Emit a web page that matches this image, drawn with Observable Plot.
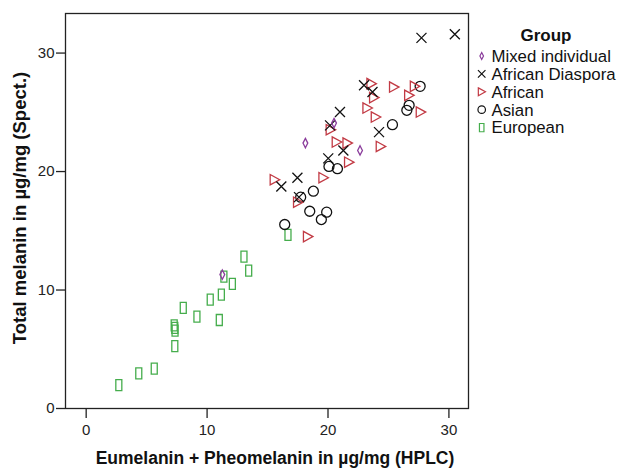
<!DOCTYPE html>
<html><head><meta charset="utf-8">
<script src="https://cdn.jsdelivr.net/npm/d3@7"></script>
<script src="https://cdn.jsdelivr.net/npm/@observablehq/plot@0.6"></script>
<style>
body{margin:0;background:#fff}
#chart{position:relative;width:621px;height:470px;font-family:"Liberation Sans",Arial,sans-serif}
#chart svg{position:absolute;left:0;top:0}
</style>
</head><body><div id="chart"></div>
<script>
const groupNames = ["Mixed individual", "African Diaspora", "African", "Asian", "European"];
const groupColors = ["#8b3d9c", "#111111", "#c23a44", "#111111", "#45ad4c"];

const mixedX = [11.26, 18.13, 20.50, 22.65];
const mixedY = [11.30, 22.40, 24.09, 21.78];

const diasporaX = [27.73, 30.49, 22.98, 23.68, 20.99, 20.17, 24.22, 21.27, 20.02, 17.47, 16.14, 17.60];
const diasporaY = [31.28, 31.59, 27.28, 26.71, 25.02, 23.90, 23.33, 21.78, 21.11, 19.48, 18.74, 17.84];

const africanX = [23.59, 23.81, 25.46, 27.18, 26.71, 23.26, 23.95, 27.67, 20.22, 20.72, 21.61, 24.36, 21.74, 19.62, 15.59, 17.52, 18.34];
const africanY = [27.42, 26.24, 27.13, 27.19, 26.43, 25.36, 24.60, 25.02, 23.53, 22.49, 22.40, 22.12, 20.79, 19.48, 19.31, 17.41, 14.51];

const asianX = [27.62, 26.71, 26.52, 25.33, 20.08, 20.78, 18.79, 17.74, 18.49, 19.89, 19.45, 16.42];
const asianY = [27.19, 25.59, 25.17, 23.96, 20.43, 20.24, 18.34, 17.84, 16.65, 16.57, 15.95, 15.53];

const europeanX = [2.70, 4.35, 5.63, 7.28, 7.33, 7.35, 7.33, 8.03, 9.16, 10.26, 11.18, 11.01, 11.39, 12.09, 13.05, 13.44, 16.69];
const europeanY = [1.98, 2.96, 3.36, 7.02, 6.80, 6.57, 5.27, 8.49, 7.75, 9.19, 9.61, 7.47, 11.13, 10.52, 12.82, 11.64, 14.66];

const xTicks = [0, 10, 20, 30];
const yTicks = [0, 10, 20, 30];
const xTitle = "Eumelanin + Pheomelanin in µg/mg (HPLC)";
const yTitle = "Total melanin in µg/mg (Spect.)";
const legendTitle = "Group";

// custom marker shapes (SPSS style)
const symDiamond = {draw(c){c.moveTo(0,-4.7);c.lineTo(2.4,0);c.lineTo(0,4.7);c.lineTo(-2.4,0);c.closePath();}};
const symCross = {draw(c){c.moveTo(-5,-5);c.lineTo(5,5);c.moveTo(5,-5);c.lineTo(-5,5);}};
const symTriangle = {draw(c){c.moveTo(-4.5,-5.2);c.lineTo(5,0);c.lineTo(-4.5,5.2);c.closePath();}};
const symCircle = {draw(c){c.moveTo(5,0);c.arc(0,0,5,0,2*Math.PI);}};
const symRect = {draw(c){c.rect(-3,-5.5,6,11);}};
const groupSymbols = [symDiamond, symCross, symTriangle, symCircle, symRect];

const series = [
  [europeanX, europeanY, 4],
  [asianX, asianY, 3],
  [africanX, africanY, 2],
  [diasporaX, diasporaY, 1],
  [mixedX, mixedY, 0]
];

const dotMarks = series.map(([xs, ys, g]) => Plot.dot(xs.map((x, i) => ({x, y: ys[i]})), {
  x: "x", y: "y", symbol: groupSymbols[g], r: 5, stroke: groupColors[g], fill: "none", strokeWidth: 1.3
}));

const chart = Plot.plot({
  width: 621, height: 470,
  marginLeft: 65, marginRight: 153, marginTop: 13, marginBottom: 62,
  style: {fontFamily: "Liberation Sans, Arial, sans-serif", fontSize: "15px", color: "#222", background: "white"},
  x: {domain: [-1.71, 31.62]},
  y: {domain: [0, 33.34]},
  marks: [
    Plot.frame({stroke: "#222", strokeWidth: 1.3}),
    Plot.axisX({ticks: xTicks, tickSize: 10, tickPadding: 6, label: null, fontSize: 15, strokeWidth: 1.3}),
    Plot.axisY({ticks: yTicks, tickSize: 9, tickPadding: 2, label: null, fontSize: 15, strokeWidth: 1.3}),
    ...dotMarks,
    Plot.text([xTitle], {frameAnchor: "bottom", textAnchor: "middle", lineAnchor: "middle", dy: 50, dx: 8, fontWeight: "bold", fontSize: 17.5, fill: "#111"}),
    Plot.text([yTitle], {frameAnchor: "left", textAnchor: "middle", lineAnchor: "middle", dx: -45, dy: -3, rotate: -90, fontWeight: "bold", fontSize: 18.5, fill: "#111"})
  ]
});
const root = document.getElementById("chart");
root.appendChild(chart);

// legend overlay
const lg = d3.select(root).append("svg").attr("width", 621).attr("height", 470)
  .style("pointer-events", "none");
lg.append("text").attr("x", 546).attr("y", 35).attr("text-anchor", "middle").attr("dy", "0.35em")
  .attr("font-weight", "bold").attr("font-size", 17).attr("fill", "#111").text(legendTitle);
groupNames.forEach((name, i) => {
  const y = 56 + i * 17.9;
  lg.append("path").attr("d", d3.symbol(groupSymbols[i])()).attr("transform", `translate(481.7,${y}) scale(0.75)`)
    .attr("fill", "none").attr("stroke", groupColors[i]).attr("stroke-width", 1.6);
  lg.append("text").attr("x", 491.5).attr("y", y).attr("dy", "0.35em").attr("font-size", 16.8)
    .attr("fill", "#111").text(name);
});
</script>
</body></html>
